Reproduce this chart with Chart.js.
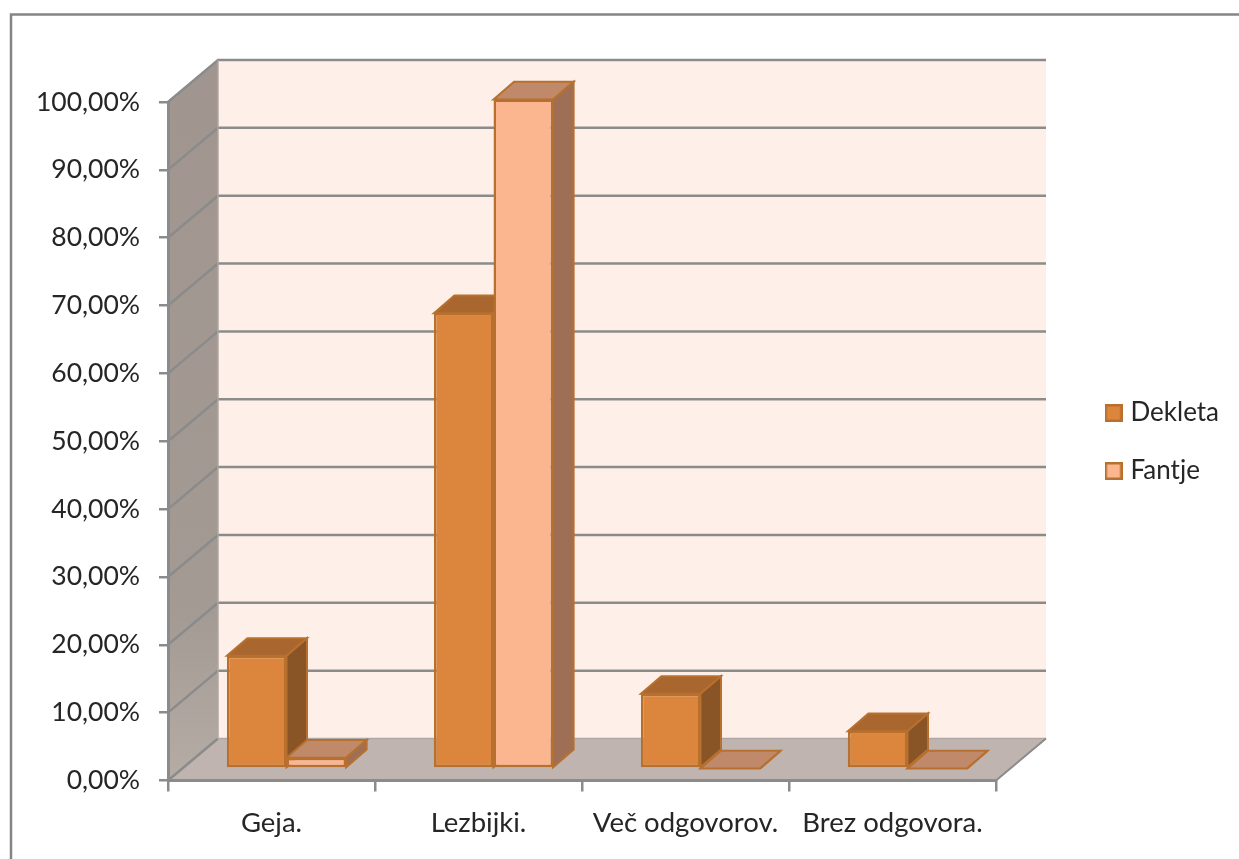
<!DOCTYPE html>
<html>
<head>
<meta charset="utf-8">
<style>
  html, body { margin: 0; padding: 0; background: #fff; overflow: hidden; }
  canvas { display: block; filter: blur(0.5px); }
</style>
</head>
<body>
<canvas id="myChart" width="1239" height="859"></canvas>
<script src="https://cdn.jsdelivr.net/npm/chart.js@4"></script>
<script>
const categories = ['Geja.', 'Lezbijki.', 'Več odgovorov.', 'Brez odgovora.'];
const dekleta = [16.6, 67.1, 11, 5.5];
const fantje = [1.6, 98.6, 0, 0];
const seriesNames = ['Dekleta', 'Fantje'];
const yTicks = ['0,00%', '10,00%', '20,00%', '30,00%', '40,00%', '50,00%', '60,00%', '70,00%', '80,00%', '90,00%', '100,00%'];

const FONT = 'Lato';
const TEXT = '#262626';
const GRID = '#8b8b8b';
// depth of the box the plot sits in, and of the bars
const WALL = { dx: 50, dy: 42 };
const BAR = { dx: 20.5, dy: 17.7, shiftX: 15, shiftY: 12 };

const colors = [
  { front: '#dc853c', top: '#a9662f', side: '#895426', line: '#b8702e' },
  { front: '#fbb690', top: '#c08a6a', side: '#9e6f55', line: '#b8702e' }
];

function poly(ctx, pts, fill, stroke, width) {
  ctx.beginPath();
  pts.forEach((p, i) => i ? ctx.lineTo(p[0], p[1]) : ctx.moveTo(p[0], p[1]));
  ctx.closePath();
  if (fill) { ctx.fillStyle = fill; ctx.fill(); }
  if (stroke) { ctx.strokeStyle = stroke; ctx.lineWidth = width; ctx.stroke(); }
}

function swatch(c) {
  const s = document.createElement('canvas');
  s.width = 18; s.height = 18;
  const g = s.getContext('2d');
  g.fillStyle = c.front; g.fillRect(1, 1, 16, 16);
  g.strokeStyle = c.line; g.lineWidth = 2.5; g.strokeRect(1.25, 1.25, 15.5, 15.5);
  return s;
}

const box3d = {
  id: 'box3d',
  afterLayout(chart) {
    // legend floats right of the plot
    const l = chart.legend;
    l.left = 1077.5; l.right = 1239; l.top = 368; l.bottom = 530;
  },
  beforeDraw(chart) {
    const ctx = chart.ctx, a = chart.chartArea, y = chart.scales.y;
    const dx = WALL.dx, dy = WALL.dy;
    ctx.save();
    // outer frame, only top and left show
    ctx.strokeStyle = '#858585'; ctx.lineWidth = 2.5;
    ctx.beginPath(); ctx.moveTo(11, 859); ctx.lineTo(11, 14.5); ctx.lineTo(1239, 14.5); ctx.stroke();

    poly(ctx, [[a.left + dx, a.top - dy], [a.right + dx, a.top - dy], [a.right + dx, a.bottom - dy], [a.left + dx, a.bottom - dy]], '#fef0e8');
    const lw = ctx.createLinearGradient(0, a.top, 0, a.bottom);
    lw.addColorStop(0, '#a1968f'); lw.addColorStop(0.75, '#a39a94'); lw.addColorStop(1, '#b5aca6');
    poly(ctx, [[a.left, a.top], [a.left + dx, a.top - dy], [a.left + dx, a.bottom - dy], [a.left, a.bottom]], lw);
    poly(ctx, [[a.left, a.bottom], [a.left + dx, a.bottom - dy], [a.right + dx, a.bottom - dy], [a.right, a.bottom]], '#bfb4b0');

    ctx.strokeStyle = GRID; ctx.lineWidth = 2.5;
    y.ticks.forEach(t => {
      const py = y.getPixelForValue(t.value);
      ctx.beginPath();
      ctx.moveTo(a.left, py);
      ctx.lineTo(a.left + dx, py - dy);
      if (t.value > 0) ctx.lineTo(a.right + dx, py - dy);
      ctx.stroke();
    });
    ctx.strokeStyle = '#b0a8a4'; ctx.lineWidth = 1.5;
    ctx.beginPath(); ctx.moveTo(a.left + dx, a.top - dy); ctx.lineTo(a.left + dx, a.bottom - dy); ctx.lineTo(a.right + dx, a.bottom - dy); ctx.stroke();
    ctx.strokeStyle = GRID; ctx.lineWidth = 2;
    ctx.beginPath(); ctx.moveTo(a.right, a.bottom); ctx.lineTo(a.right + dx, a.bottom - dy); ctx.stroke();
    ctx.restore();
  },
  beforeDatasetsDraw(chart) {
    const ctx = chart.ctx;
    ctx.save();
    ctx.translate(BAR.shiftX, -BAR.shiftY);
    // tops and sides first, left series behind the right one
    [0, 1].forEach(i => {
      const c = colors[i];
      chart.getDatasetMeta(i).data.forEach(b => {
        const l = b.x - b.width / 2, r = b.x + b.width / 2;
        poly(ctx, [[l, b.y], [l + BAR.dx, b.y - BAR.dy], [r + BAR.dx, b.y - BAR.dy], [r, b.y]], c.top, c.line, 2);
        poly(ctx, [[r, b.y], [r + BAR.dx, b.y - BAR.dy], [r + BAR.dx, b.base - BAR.dy], [r, b.base]], c.side, c.line, 2);
      });
    });
  },
  afterDatasetsDraw(chart) {
    chart.ctx.restore();
  }
};

new Chart(document.getElementById('myChart').getContext('2d'), {
  type: 'bar',
  data: {
    labels: categories,
    datasets: [
      { label: seriesNames[0], data: dekleta, clip: false, backgroundColor: colors[0].front, borderColor: colors[0].line, borderWidth: 2.5, borderSkipped: false },
      { label: seriesNames[1], data: fantje, clip: false, backgroundColor: colors[1].front, borderColor: colors[1].line, borderWidth: 2.5, borderSkipped: false }
    ]
  },
  plugins: [box3d],
  options: {
    responsive: false,
    animation: false,
    events: [],
    layout: { padding: { top: 102, right: 243, bottom: 0, left: 0 } },
    categoryPercentage: 0.576,
    barPercentage: 1,
    scales: {
      x: {
        grid: { drawOnChartArea: false, color: GRID, lineWidth: 2.5, tickLength: 11 },
        border: { color: GRID, width: 3 },
        ticks: { font: { family: FONT, size: 27.5 }, color: TEXT, padding: 15, maxRotation: 0, autoSkip: false },
        afterFit: s => { s.height = 78.5; }
      },
      y: {
        min: 0,
        max: 100,
        grid: { drawOnChartArea: false, color: GRID, lineWidth: 2.5, tickLength: 9 },
        border: { color: GRID, width: 3 },
        ticks: {
          stepSize: 10,
          font: { family: FONT, size: 26.5 },
          color: TEXT,
          padding: 19,
          callback: (v) => yTicks[v / 10]
        },
        afterFit: s => { s.width = 168; }
      }
    },
    plugins: {
      title: { display: false },
      tooltip: { enabled: false },
      legend: {
        position: 'chartArea',
        align: 'start',
        labels: {
          font: { family: FONT, size: 26 },
          color: TEXT,
          usePointStyle: true,
          boxHeight: 8,
          boxWidth: 8,
          padding: 32,
          generateLabels: chart => Chart.defaults.plugins.legend.labels.generateLabels(chart)
            .map((item, i) => Object.assign(item, { pointStyle: swatch(colors[i]) }))
        }
      }
    }
  }
});
</script>
</body>
</html>
